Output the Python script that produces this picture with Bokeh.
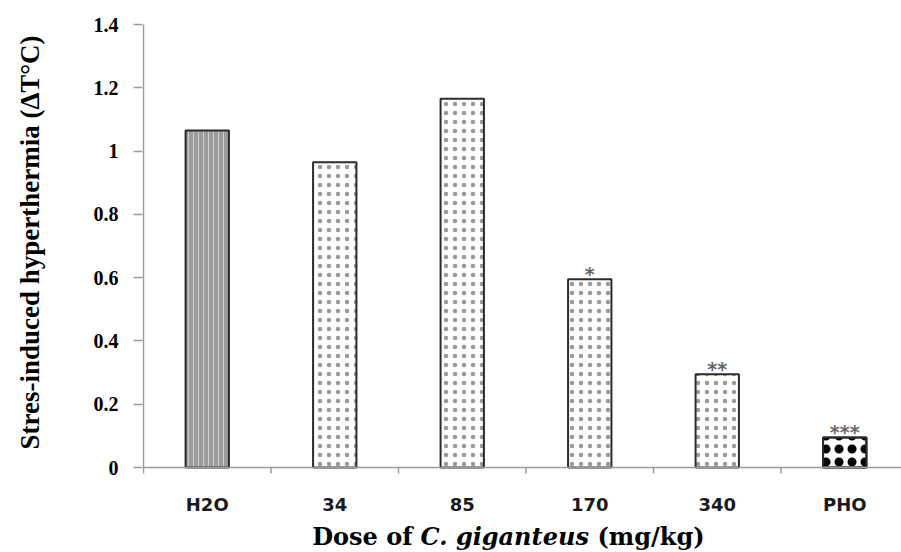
from bokeh.plotting import figure
from bokeh.layouts import column
from bokeh.models import Range1d, FixedTicker, NumeralTickFormatter
from bokeh.embed import file_html
from bokeh.resources import INLINE
from bokeh.core.properties import value

# ---- data ----
categories = ["H2O", "34", "85", "170", "340", "PHO"]
sih_values = [1.065, 0.965, 1.165, 0.595, 0.295, 0.095]
significance = ["", "", "", "*", "**", "***"]
y_ticks = [0, 0.2, 0.4, 0.6, 0.8, 1.0, 1.2, 1.4]
x_title_parts = ["Dose of", "C. giganteus", "(mg/kg)"]
y_title = "Stres-induced hyperthermia (\u0394T\u00b0C)"

# ---- layout helpers (pixel <-> data) ----
W, H = 901, 552
AXIS_X = 143          # pixel column of the value axis
FRAME_LEFT = 142
Y14 = 24              # pixel row of value 1.4
ZERO_Y = 467          # pixel row of value 0
TOP_H = 484           # height of the main figure
FRAME_TOP = 0
CAT_PX = 127.5
Y_SCALE = (ZERO_Y - Y14) / 1.4


def sx(px):
    return (px - AXIS_X) / CAT_PX


def sy(py):
    return -(py - ZERO_Y) / Y_SCALE


x_start = sx(FRAME_LEFT)
x_end = sx(W)
centers = [i + 0.5 for i in range(len(categories))]
bounds = list(range(len(categories)))
xr = Range1d(x_start, x_end)

p = figure(width=W, height=TOP_H, output_backend="svg", toolbar_location=None,
           x_range=xr, y_range=Range1d(sy(TOP_H), sy(FRAME_TOP)),
           x_axis_location=None,
           min_border_left=FRAME_LEFT, min_border_right=0,
           min_border_top=FRAME_TOP, min_border_bottom=0)
p.title = None
p.outline_line_color = None
p.xgrid.grid_line_color = None
p.ygrid.grid_line_color = None
p.background_fill_color = "white"
p.border_fill_color = "white"

# bars
bw = 0.34
p.vbar(x=centers[0:1], top=sih_values[0:1], width=bw, bottom=0,
       fill_color="#9c9c9c", line_color="#2b2b2b", line_width=2,
       hatch_pattern="|", hatch_color="#cfcfcf", hatch_scale=5, hatch_weight=1)
p.vbar(x=centers[1:5], top=sih_values[1:5], width=bw, bottom=0,
       fill_color="white", line_color="#2b2b2b", line_width=2,
       hatch_pattern=".", hatch_color="#9a9a9a", hatch_scale=9, hatch_weight=1)
p.vbar(x=centers[5:6], top=sih_values[5:6], width=bw, bottom=0,
       fill_color="white", line_color="#2b2b2b", line_width=2,
       hatch_pattern="o", hatch_color="black", hatch_scale=13, hatch_weight=2.5)
p.vbar(x=centers[5:6], top=sih_values[5:6], width=bw, bottom=0,
       fill_alpha=0, line_color="#2b2b2b", line_width=2,
       hatch_pattern=".", hatch_color="black", hatch_scale=13, hatch_weight=2.5)

# category axis line and boundary ticks
p.segment(x0=[0], y0=[0], x1=[x_end], y1=[0], line_color="#9a9a9a", line_width=1.5)
p.segment(x0=bounds, y0=[0] * len(bounds), x1=bounds, y1=[sy(ZERO_Y + 6)] * len(bounds),
          line_color="#9a9a9a", line_width=1.5)
# value axis line
p.segment(x0=[0], y0=[0], x1=[0], y1=[1.4], line_color="#9a9a9a", line_width=1.5)

# significance stars
p.text(x=centers, y=sih_values, text=significance, text_align="center",
       text_baseline="alphabetic", y_offset=-5,
       text_font=value("DejaVu Sans"), text_font_style="bold",
       text_font_size="19px", text_color="#666666")

# y axis (ticks + labels; line drawn above so it stops at 0 and 1.4)
p.yaxis.ticker = FixedTicker(ticks=y_ticks)
p.yaxis.formatter = NumeralTickFormatter(format="0.[0]")
p.yaxis.major_label_text_font = "Liberation Serif"
p.yaxis.major_label_text_font_style = "bold"
p.yaxis.major_label_text_font_size = "20px"
p.yaxis.major_label_text_color = "black"
p.yaxis.major_tick_out = 9
p.yaxis.major_tick_in = 0
p.yaxis.major_label_standoff = 15
p.yaxis.minor_tick_line_color = None
p.yaxis.axis_line_color = None
p.yaxis.major_tick_line_color = "#9a9a9a"
p.yaxis.major_tick_line_width = 1.5
p.yaxis.axis_label = y_title
p.yaxis.axis_label_text_font = "Liberation Serif"
p.yaxis.axis_label_text_font_style = "bold"
p.yaxis.axis_label_text_font_size = "27px"
p.yaxis.axis_label_text_color = "black"
p.yaxis.axis_label_standoff = 46

# ---- lower strip: category labels and x title (y in pixel rows) ----
q = figure(width=W, height=H - TOP_H, output_backend="svg", toolbar_location=None,
           x_range=xr, y_range=Range1d(H, TOP_H),
           x_axis_location=None, y_axis_location=None,
           min_border_left=FRAME_LEFT, min_border_right=0,
           min_border_top=0, min_border_bottom=0)
q.title = None
q.outline_line_color = None
q.xgrid.grid_line_color = None
q.ygrid.grid_line_color = None
q.background_fill_color = "white"
q.border_fill_color = "white"

q.text(x=centers, y=[504] * len(categories), text=categories, text_align="center",
       text_baseline="alphabetic", text_font=value("DejaVu Sans"),
       text_font_style="bold", text_font_size="18px", text_color="#1a1a1a")

base_y = 536
q.text(x=[sx(412)], y=[base_y], text=[x_title_parts[0]], text_align="right",
       text_baseline="alphabetic", text_font=value("DejaVu Serif"),
       text_font_style="bold", text_font_size="24px", text_color="black")
q.text(x=[sx(420)], y=[base_y], text=[x_title_parts[1]], text_align="left",
       text_baseline="alphabetic", text_font=value("DejaVu Serif"),
       text_font_style="bold italic", text_font_size="24px", text_color="black")
q.text(x=[sx(597)], y=[base_y], text=[x_title_parts[2]], text_align="left",
       text_baseline="alphabetic", text_font=value("DejaVu Serif"),
       text_font_style="bold", text_font_size="24px", text_color="black")

layout = column(p, q, spacing=0)
open("out.html", "w").write(file_html(layout, INLINE))
